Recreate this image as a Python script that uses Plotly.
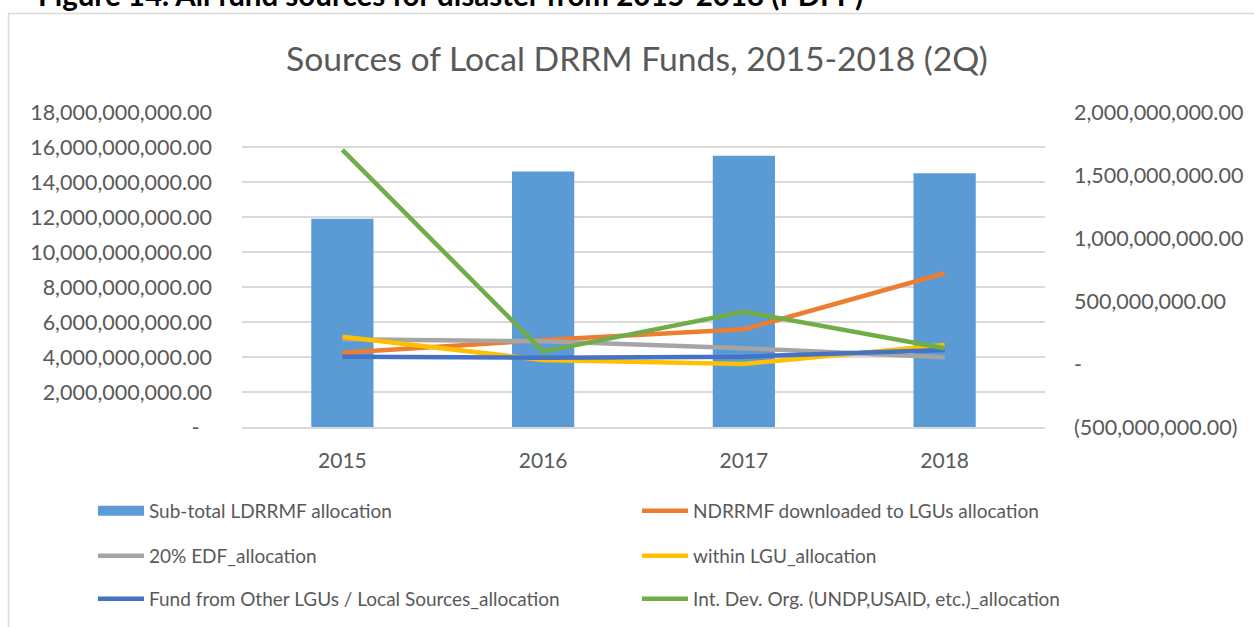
import plotly.graph_objects as go

years = ["2015", "2016", "2017", "2018"]
subtotal_ldrrmf = [11.9e9, 14.6e9, 15.5e9, 14.5e9]
ndrrmf_downloaded = [0.09e9, 0.19e9, 0.275e9, 0.72e9]
edf_20 = [0.196e9, 0.18e9, 0.125e9, 0.053e9]
within_lgu = [0.217e9, 0.032e9, 0.0, 0.151e9]
other_lgus = [0.058e9, 0.05e9, 0.058e9, 0.111e9]
int_dev_org = [1.70e9, 0.098e9, 0.415e9, 0.125e9]

left_tickvals = [i * 2e9 for i in range(10)]
left_ticktext = ["-\u2007"] + [f"{v:,.2f}" for v in left_tickvals[1:]]
right_tickvals = [-0.5e9, 0, 0.5e9, 1.0e9, 1.5e9, 2.0e9]
right_ticktext = ["(500,000,000.00)", "-", "500,000,000.00", "1,000,000,000.00",
                  "1,500,000,000.00", "2,000,000,000.00"]

FONT = "Lato"
TXT = "#595959"
BAR_COL = "#5b9bd5"

W, H = 1254, 627
L, R, T, B = 242, 1045, 112, 427


def px_x(p):
    return (p - L) / (R - L)


def px_y(p):
    return (B - p) / (B - T)


COL1_W = 483
COL2_W = 400

fig = go.Figure()
fig.add_trace(go.Bar(x=years, y=subtotal_ldrrmf, name="Sub-total LDRRMF allocation",
                     marker=dict(color=BAR_COL, line=dict(width=0)), showlegend=False))
# legend-only entry so the bar's legend key is drawn as a wide block like the original
fig.add_trace(go.Scatter(x=[None], y=[None], name="Sub-total LDRRMF allocation",
                         mode="lines", line=dict(color=BAR_COL, width=15),
                         legend="legend", legendwidth=COL1_W, hoverinfo="skip"))
line_series = [
    ("NDRRMF downloaded to LGUs allocation", ndrrmf_downloaded, "#ed7d31", "legend", COL2_W),
    ("20% EDF_allocation", edf_20, "#a5a5a5", "legend2", COL1_W),
    ("within LGU_allocation", within_lgu, "#ffc000", "legend2", COL2_W),
    ("Fund from Other LGUs / Local Sources_allocation", other_lgus, "#4472c4", "legend3", COL1_W),
    ("Int. Dev. Org. (UNDP,USAID, etc.)_allocation", int_dev_org, "#70ad47", "legend3", COL2_W),
]
for name, vals, col, lg, lw in line_series:
    fig.add_trace(go.Scatter(x=years, y=vals, name=name, mode="lines", yaxis="y2",
                             line=dict(color=col, width=4.5), legend=lg, legendwidth=lw))

leg_common = dict(orientation="h", xanchor="left", yanchor="middle",
                  xref="paper", yref="paper",
                  font=dict(family=FONT, size=19, color=TXT), itemwidth=46,
                  entrywidthmode="pixels", bgcolor="rgba(0,0,0,0)",
                  traceorder="normal")

fig.update_layout(
    width=W, height=H,
    margin=dict(l=L, r=W - R, t=T, b=H - B, autoexpand=False),
    paper_bgcolor="white", plot_bgcolor="white",
    font=dict(family=FONT, color=TXT),
    bargap=0.69,
    showlegend=True,
    xaxis=dict(type="category", showgrid=False, showline=True, linecolor="#d9d9d9",
               linewidth=1.5, ticks="", tickfont=dict(size=21, color=TXT),
               ticklabelstandoff=14),
    yaxis=dict(range=[0, 18e9], tickvals=left_tickvals, ticktext=left_ticktext,
               showgrid=True, gridcolor="#d9d9d9", gridwidth=1.5, zeroline=False,
               showline=False, ticks="", tickfont=dict(size=21.5, color=TXT),
               ticklabelstandoff=29),
    yaxis2=dict(range=[-0.5e9, 2e9], tickvals=right_tickvals, ticktext=right_ticktext,
                overlaying="y", side="right", showgrid=False, zeroline=False,
                showline=False, ticks="", tickfont=dict(size=21.5, color=TXT),
                ticklabelstandoff=28),
    legend=dict(x=px_x(93), y=px_y(511), **leg_common),
    legend2=dict(x=px_x(93), y=px_y(556), **leg_common),
    legend3=dict(x=px_x(93), y=px_y(599), **leg_common),
    shapes=[dict(type="rect", xref="paper", yref="paper",
                 x0=px_x(8.5), x1=px_x(1262), y0=px_y(640), y1=px_y(13.5),
                 line=dict(color="#d9d9d9", width=1.5), fillcolor="rgba(0,0,0,0)",
                 layer="below")],
    annotations=[
        dict(text="Sources of Local DRRM Funds, 2015-2018 (2Q)", xref="paper",
             yref="paper", x=px_x(637), y=px_y(58), xanchor="center", yanchor="middle",
             showarrow=False, font=dict(family=FONT, size=33.7, color=TXT)),
        dict(text="<b>Figure 14. All fund sources for disaster from 2015-2018 (PDFP)</b>",
             xref="paper", yref="paper", x=px_x(36), y=px_y(14), xanchor="left",
             yanchor="bottom", showarrow=False,
             font=dict(family=FONT, size=29.5, color="black")),
    ],
)

fig.write_html("out.html", config={"displayModeBar": False},
               post_script="document.body.style.margin='0';")
